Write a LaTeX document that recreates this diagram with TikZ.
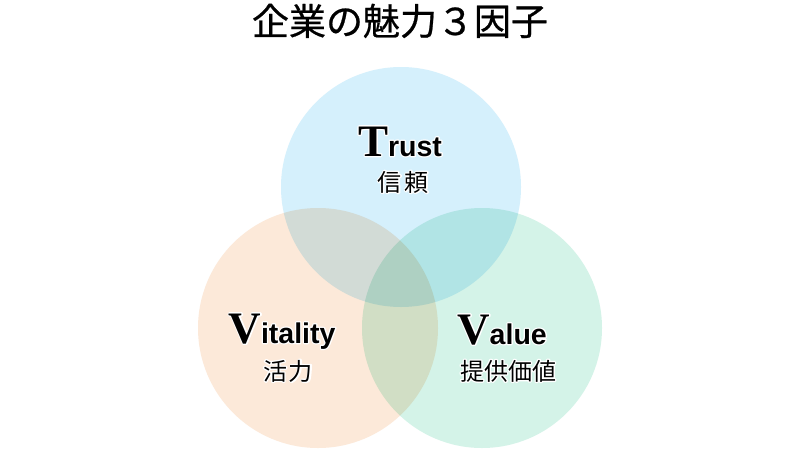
\documentclass[tikz,border=0pt]{standalone}
\usepackage{fontspec}
\newfontfamily\cjkfont{Noto Sans CJK JP}
\newfontfamily\cjktitle{Noto Sans CJK JP}[FakeBold=0.6]
\newfontfamily\capserif{Liberation Serif}[BoldFont=* Bold]
\newfontfamily\restsans{Liberation Sans}[BoldFont=* Bold]
\definecolor{cblue}{HTML}{D5F0FC}
\definecolor{corange}{HTML}{FCE9D9}
\definecolor{cgreen}{HTML}{D4F3E8}
\newcommand{\initialcap}[1]{{\capserif\bfseries\fontsize{45}{45}\selectfont #1}}
\newcommand{\restword}[1]{{\restsans\bfseries\fontsize{28.5}{28.5}\selectfont #1}}
\newcommand{\halotext}[1]{\rlap{\special{pdf:code q 2 Tr 1 1 1 RG 2.6 w 1 j}#1\special{pdf:code Q}}#1}
\tikzset{
  ring/.style={circle, minimum size=240pt, inner sep=0pt, draw=none},
  engl/.style={anchor=base, inner sep=0pt},
  jpsub/.style={anchor=base, inner sep=0pt, font=\cjkfont\fontsize{24}{24}\selectfont},
}
\begin{document}
\begin{tikzpicture}[x=1pt,y=-1pt]
\useasboundingbox (0,0) rectangle (800,450);
\fill[white] (0,0) rectangle (800,450);
\begin{scope}[blend group=multiply]
  \node[ring, fill=cblue] (trust) at (401,187) {};
  \node[ring, fill=corange] (vitality) at (318,328) {};
  \node[ring, fill=cgreen] (value) at (482,328) {};
\end{scope}
\node[anchor=base, inner sep=0pt, font=\cjktitle\fontsize{37}{37}\selectfont] (title) at (400,35) {企業の魅力３因子};
\node[engl] (trustlabel) at (400,156) {\halotext{\initialcap{T}\restword{rust}}};
\node[jpsub] (trustjp) at (403,191) {\halotext{信\hspace{3pt}頼}};
\node[engl] (vitalitylabel) at (282,343) {\halotext{\initialcap{V}\restword{itality}}};
\node[jpsub] (vitalityjp) at (288,380) {\halotext{活\hspace{2pt}力}};
\node[engl] (valuelabel) at (502,344) {\halotext{\initialcap{V}\restword{alue}}};
\node[jpsub] (valuejp) at (508,380) {\halotext{提供価値}};
\end{tikzpicture}
\end{document}
